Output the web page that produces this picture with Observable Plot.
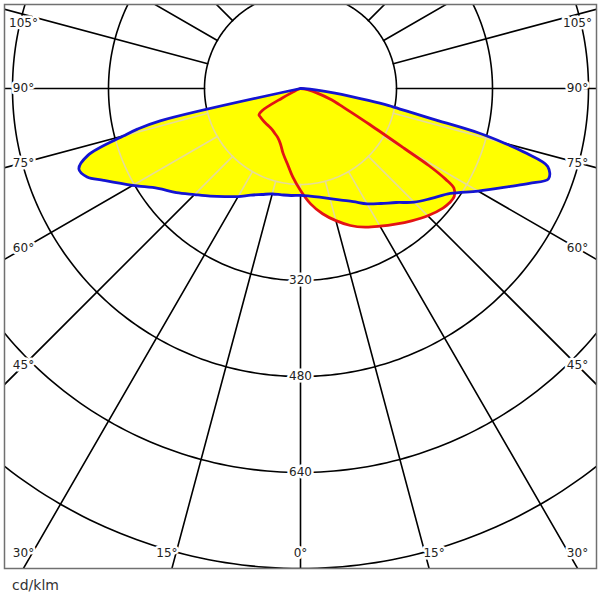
<!DOCTYPE html>
<html>
<head>
<meta charset="utf-8">
<script src="https://cdn.jsdelivr.net/npm/d3@7"></script>
<script src="https://cdn.jsdelivr.net/npm/@observablehq/plot@0.6"></script>
<style>
  body { margin: 0; background: #fff; font-family: "DejaVu Sans", sans-serif; }
  #chart { width: 600px; }
  .caption { font-size: 14px; color: #333; padding: 5px 0 0 12px; line-height: 16px; }
</style>
</head>
<body>
<div id="chart"></div>
<div class="caption" id="unit"></div>
<script>
// ---------------- data (angle from nadir in degrees, negative = left half) ----------------
const blueAngles = [-78, -77, -76, -75, -72.5, -70, -67.5, -65, -60, -55, -50, -45, -40, -35, -30, -25, -20, -15, -10, -5,
  0, 5, 10, 15, 20, 25, 30, 35, 40, 45, 50, 55, 60, 65, 67.5, 70, 72.5, 74, 75, 76, 77, 78, 79, 80, 82.5, 85, 87.5, 90];
const blueValues = [0, 240, 280, 305, 372, 393, 385, 362, 323, 290, 270, 250, 234, 220, 208, 196, 188, 182, 180, 179,
  178, 180, 184, 190, 198, 208, 222, 234, 248, 268, 285, 305, 342, 386, 413, 440, 432, 392, 352, 305, 225, 180, 150, 115, 58, 25, 7, 0];

const redAngles = [-75, -70, -65, -62.5, -60, -57.5, -55, -50, -45, -40, -35, -30, -25, -20, -15, -10, -5,
  0, 5, 10, 15, 20, 25, 30, 35, 40, 45, 50, 52.5, 55, 57, 58, 59, 60, 62.5, 65, 67.5, 70, 75, 80, 85, 90];
const redValues = [0, 4, 12, 35, 74, 82, 82, 82, 82, 82, 83, 86, 90, 98, 112, 127, 148,
  170, 193, 212, 228, 243, 255, 265, 276, 288, 300, 310, 313, 313, 305, 285, 250, 200, 130, 92, 70, 55, 28, 12, 5, 0];

const ringValues = [160, 320, 480, 640, 800];
const ringLabels = [320, 480, 640];
const spokeStep = 15;
const angleLabels = [0, 15, 30, 45, 60, 75, 90, 105];
const unitLabel = "cd/klm";

const blueColor = "#1414d2";
const redColor = "#e31414";
const fillColor = "#ffff00";
const innerGridColor = "#e6dc98";

// ---------------- layout ----------------
const W = 600, H = 572;
const pxPerUnit = 96 / 160;     // radial scale
const cxPx = 300, cyPx = 88;    // pole position

const rad = d => d * Math.PI / 180;
const polar = (a, r) => ({x: r * Math.sin(rad(a)), y: r * Math.cos(rad(a))});

const curveRows = (name, angles, values) => angles.map((a, i) => ({plane: name, ...polar(a, values[i]), x0: 0, y0: 0}));
const blueRows = curveRows("C0-C180", blueAngles, blueValues);
const redRows = curveRows("C90-C270", redAngles, redValues);
const fillRows = blueRows.concat(redRows);

// grid geometry
const gridRows = [];
ringValues.forEach(r => {
  for (let a = 0; a <= 360; a += 1) gridRows.push({id: "ring" + r, ...polar(a, r)});
});
for (let a = -180; a < 180; a += spokeStep) {
  gridRows.push({id: "spoke" + a, ...polar(a, ringValues[0])});
  gridRows.push({id: "spoke" + a, ...polar(a, 1200)});
}

// angle label placement: side columns / bottom row
const sideX = (cxPx - 23) / pxPerUnit;
const bottomY = (553 - cyPx) / pxPerUnit;
const topY = (22.7 - cyPx) / pxPerUnit;
const outward = 9 / pxPerUnit;
const angleLabelRows = [];
angleLabels.forEach(a => {
  const sides = a === 0 ? [1] : [-1, 1];
  sides.forEach(s => {
    let x, y;
    const sa = Math.sin(rad(a)), ca = Math.cos(rad(a));
    const ySide = sa > 0 ? sideX / sa * ca : Infinity;
    if (ySide > bottomY) {
      y = bottomY;
      x = a === 0 ? 0 : s * (bottomY * Math.tan(rad(a)) + outward);
      x = Math.max(-sideX, Math.min(sideX, x));
    } else {
      x = s * sideX;
      y = Math.max(topY, ySide);
    }
    angleLabelRows.push({x, y, text: a + "\u00B0"});
  });
});
const ringLabelRows = ringLabels.map(r => ({...polar(0, r), text: String(r)}));

const font = "DejaVu Sans, Verdana, sans-serif";

const svg = Plot.plot({
  width: W,
  height: H,
  marginTop: 4, marginRight: 4, marginBottom: 4, marginLeft: 4,
  style: {background: "white", fontFamily: font},
  x: {domain: [-cxPx / pxPerUnit, (W - cxPx) / pxPerUnit], range: [0, W], axis: null},
  y: {domain: [-cyPx / pxPerUnit, (H - cyPx) / pxPerUnit], range: [0, H], axis: null},
  marks: [
    Plot.line(gridRows, {x: "x", y: "y", z: "id", stroke: "black", strokeWidth: 1.6, clip: true}),
    Plot.area(fillRows, {x1: "x", y1: "y", x2: "x0", y2: "y0", z: "plane", fill: fillColor, curve: "catmull-rom"}),
    Plot.line(gridRows, {x: "x", y: "y", z: "id", stroke: innerGridColor, strokeWidth: 1.6}),
    Plot.line(redRows, {x: "x", y: "y", stroke: redColor, strokeWidth: 2.8, curve: "catmull-rom"}),
    Plot.line(blueRows, {x: "x", y: "y", stroke: blueColor, strokeWidth: 2.8, curve: "catmull-rom"}),
    Plot.text(ringLabelRows, {x: "x", y: "y", text: "text", fill: "#222", stroke: "white", strokeWidth: 5, fontSize: 12, fontFamily: font}),
    Plot.text(angleLabelRows, {x: "x", y: "y", text: "text", fill: "#222", stroke: "white", strokeWidth: 5, fontSize: 12, fontFamily: font}),
    Plot.frame({stroke: "#707070", strokeWidth: 1.5})
  ]
});

// restrict the light grid to the yellow area
(function () {
  const ns = "http://www.w3.org/2000/svg";
  const fillG = svg.querySelector('g[aria-label="area"]');
  const gridG = svg.querySelector('g[stroke="' + innerGridColor + '"]');
  if (!fillG || !gridG) { if (gridG) gridG.remove(); return; }
  const defs = document.createElementNS(ns, "defs");
  const cp = document.createElementNS(ns, "clipPath");
  cp.setAttribute("id", "yellow-area-clip");
  const t = fillG.getAttribute("transform") || "";
  fillG.querySelectorAll("path").forEach(p => {
    const c = p.cloneNode(false);
    const own = c.getAttribute("transform") || "";
    if (t || own) c.setAttribute("transform", (t + " " + own).trim());
    cp.appendChild(c);
  });
  defs.appendChild(cp);
  svg.insertBefore(defs, svg.firstChild);
  const wrap = document.createElementNS(ns, "g");
  wrap.setAttribute("clip-path", "url(#yellow-area-clip)");
  gridG.parentNode.insertBefore(wrap, gridG);
  wrap.appendChild(gridG);
})();

document.getElementById("chart").appendChild(svg);
document.getElementById("unit").textContent = unitLabel;
</script>
</body>
</html>
